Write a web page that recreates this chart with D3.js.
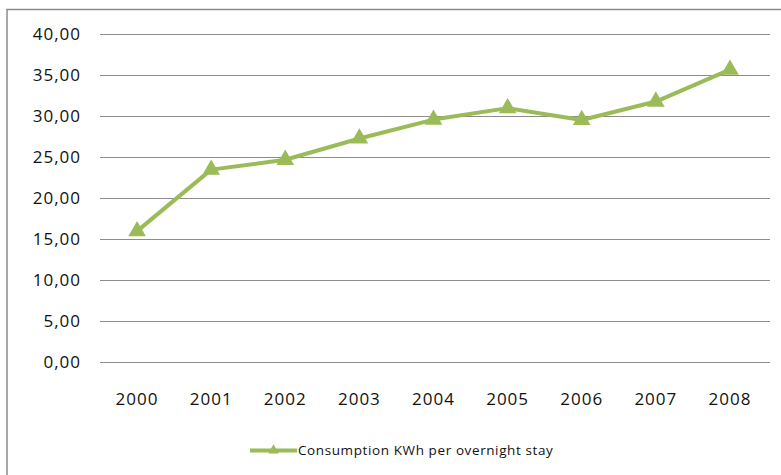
<!DOCTYPE html>
<html>
<head>
<meta charset="utf-8">
<script src="https://cdn.jsdelivr.net/npm/d3@7"></script>
<style>
  html, body { margin: 0; padding: 0; background: #fff; }
  svg { display: block; }
</style>
</head>
<body>
<svg id="chart" width="781" height="475"></svg>
<script>
// Energy consumption per overnight stay, 2000–2008
const years = ["2000", "2001", "2002", "2003", "2004", "2005", "2006", "2007", "2008"];
const consumption = [15.9, 23.4, 24.6, 27.2, 29.5, 30.9, 29.45, 31.7, 35.6];
const yTicks = [0, 5, 10, 15, 20, 25, 30, 35, 40];
const seriesName = "Consumption KWh per overnight stay";

const W = 781, H = 475;
const margin = { left: 100, right: 14, top: 33.5, bottom: 113.5 };
const green = "#9bbb59";
const fontFamily = "'Open Sans', sans-serif";

const svg = d3.select("#chart");

// chart area frame
svg.append("rect")
  .attr("x", 7).attr("y", 9.5)
  .attr("width", W + 20).attr("height", H + 20)
  .attr("fill", "#fff")
  .attr("stroke", "#8a8a8a")
  .attr("stroke-width", 1.5);

const x = d3.scaleBand()
  .domain(years)
  .range([margin.left, W - margin.right]);

const y = d3.scaleLinear()
  .domain([0, 40])
  .range([H - margin.bottom, margin.top]);

const fmt = v => d3.format(".2f")(v).replace(".", ",");

// horizontal gridlines
svg.append("g")
  .selectAll("line")
  .data(yTicks)
  .join("line")
  .attr("x1", margin.left)
  .attr("x2", W - margin.right + 3)
  .attr("y1", d => Math.round(y(d)) + 0.5)
  .attr("y2", d => Math.round(y(d)) + 0.5)
  .attr("stroke", "#8c8c8c")
  .attr("stroke-width", 1);

// y axis labels
const yAxis = d3.axisLeft(y).tickValues(yTicks).tickFormat(fmt).tickSize(0).tickPadding(0);
const yg = svg.append("g")
  .attr("transform", `translate(${margin.left - 19},0)`)
  .call(yAxis);
yg.select(".domain").remove();
yg.selectAll("text")
  .attr("font-family", fontFamily)
  .attr("font-size", 17)
  .attr("letter-spacing", 1)
  .attr("fill", "#111")
  .attr("dy", "0.36em");

// x axis labels
const xAxis = d3.axisBottom(x).tickSize(0).tickPadding(0);
const xg = svg.append("g")
  .attr("transform", `translate(0,${H - margin.bottom + 31})`)
  .call(xAxis);
xg.select(".domain").remove();
xg.selectAll("text")
  .attr("font-family", fontFamily)
  .attr("font-size", 17)
  .attr("letter-spacing", 1)
  .attr("fill", "#111");

// series line
const line = d3.line()
  .x((d, i) => x(years[i]) + x.bandwidth() / 2)
  .y(d => y(d));

svg.append("path")
  .datum(consumption)
  .attr("d", line)
  .attr("fill", "none")
  .attr("stroke", green)
  .attr("stroke-width", 4)
  .attr("stroke-linejoin", "round");

// triangle markers
const tri = d3.symbol().type(d3.symbolTriangle).size(135);
svg.append("g")
  .selectAll("path")
  .data(consumption)
  .join("path")
  .attr("d", tri)
  .attr("transform", (d, i) => `translate(${x(years[i]) + x.bandwidth() / 2},${y(d)})`)
  .attr("fill", green);

// legend
const lg = svg.append("g").attr("transform", "translate(250,450.5)");
lg.append("line")
  .attr("x1", 0).attr("x2", 47)
  .attr("stroke", green).attr("stroke-width", 4);
lg.append("path")
  .attr("d", d3.symbol().type(d3.symbolTriangle).size(50))
  .attr("transform", "translate(23.5,0)")
  .attr("fill", green);
lg.append("text")
  .attr("x", 48)
  .attr("dy", "0.36em")
  .attr("font-family", fontFamily)
  .attr("font-size", 13.5)
  .attr("letter-spacing", 0.6)
  .attr("fill", "#111")
  .text(seriesName);
</script>
</body>
</html>
